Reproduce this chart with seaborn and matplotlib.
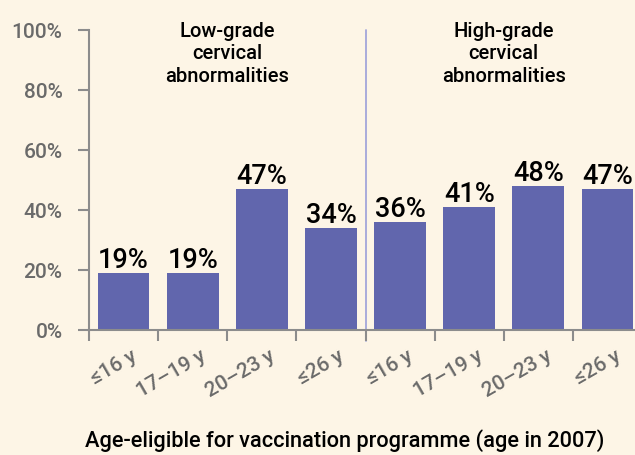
import pandas as pd
import matplotlib.pyplot as plt
import matplotlib.transforms as mtransforms
import seaborn as sns

# chart values
groups = ['Low-grade'] * 4 + ['High-grade'] * 4
ages = ['≤16 y', '17–19 y', '20–23 y', '≤26 y']
pct = [19, 19, 47, 34, 36, 41, 48, 47]
group_titles = ['Low-grade\ncervical\nabnormalities', 'High-grade\ncervical\nabnormalities']

df = pd.DataFrame({'group': groups, 'age': ages * 2, 'pct': pct})
df['key'] = df.group + ' ' + df.age

bg = '#fdf5e6'
bar_col = '#6166ad'
axis_col = '#8c8c8c'
tick_col = '#6a6a6a'

sns.set_style('white')
plt.rcParams['font.family'] = ['Roboto', 'DejaVu Sans']
plt.rcParams['font.weight'] = 'medium'
plt.rcParams['xtick.bottom'] = True
plt.rcParams['ytick.left'] = True

fig = plt.figure(figsize=(6.35, 4.56), dpi=100, facecolor=bg)
ax = fig.add_axes([89 / 635, 1 - 331 / 456, 553 / 635, 300 / 456])
ax.set_facecolor(bg)

sns.barplot(data=df, x='key', y='pct', order=list(df.key), color=bar_col,
            saturation=1, width=0.75, linewidth=0, ax=ax)

ax.set_xlim(-0.5, 7.5)
ax.set_ylim(0, 100)

# value labels on top of bars
for c in ax.containers:
    ax.bar_label(c, fmt='%d%%', padding=0, fontsize=19.5, color='black',
                 fontweight='medium')

# y axis
ax.set_yticks(range(0, 101, 20))
ax.set_yticklabels([f'{v}%' for v in range(0, 101, 20)])
ax.tick_params(axis='y', length=8, width=1.5, color=axis_col, labelcolor=tick_col,
               labelsize=15, pad=11, left=True)

# x axis: boundary ticks (major, unlabeled), labels at bar centres (minor)
n = len(df)
ax.set_xticks([i - 0.5 for i in range(n + 1)], labels=[''] * (n + 1))
ax.tick_params(axis='x', which='major', length=8, width=1.5, color=axis_col, bottom=True)
ax.set_xticks(range(n), labels=ages * 2, minor=True, rotation=30, ha='right',
              rotation_mode='anchor')
ax.tick_params(axis='x', which='minor', length=0, labelcolor=tick_col, labelsize=15,
               pad=11, bottom=True, labelbottom=True)
shift = mtransforms.ScaledTranslation(7 / 100, 0, fig.dpi_scale_trans)
for lab in ax.get_xticklabels(minor=True):
    lab.set_transform(lab.get_transform() + shift)
ax.set_xlabel('')
ax.set_ylabel('')

for s in ['top', 'right']:
    ax.spines[s].set_visible(False)
for s in ['left', 'bottom']:
    ax.spines[s].set_color(axis_col)
    ax.spines[s].set_linewidth(1.5)

# separator between the two groups
ax.plot([3.5, 3.5], [-3.7, 100], color='#a3a6da', lw=1.3, clip_on=False, zorder=0)

# group titles
for i, t in enumerate(group_titles):
    ax.text(1.5 + 4 * i, 103, t, ha='center', va='top', fontsize=14.5,
            color='black', linespacing=1.22)

fig.text(345 / 635, 1 - 441 / 456, 'Age-eligible for vaccination programme (age in 2007)',
         ha='center', va='center', fontsize=15.7, color='black')

fig.savefig('out.png', dpi=100, facecolor=bg)
